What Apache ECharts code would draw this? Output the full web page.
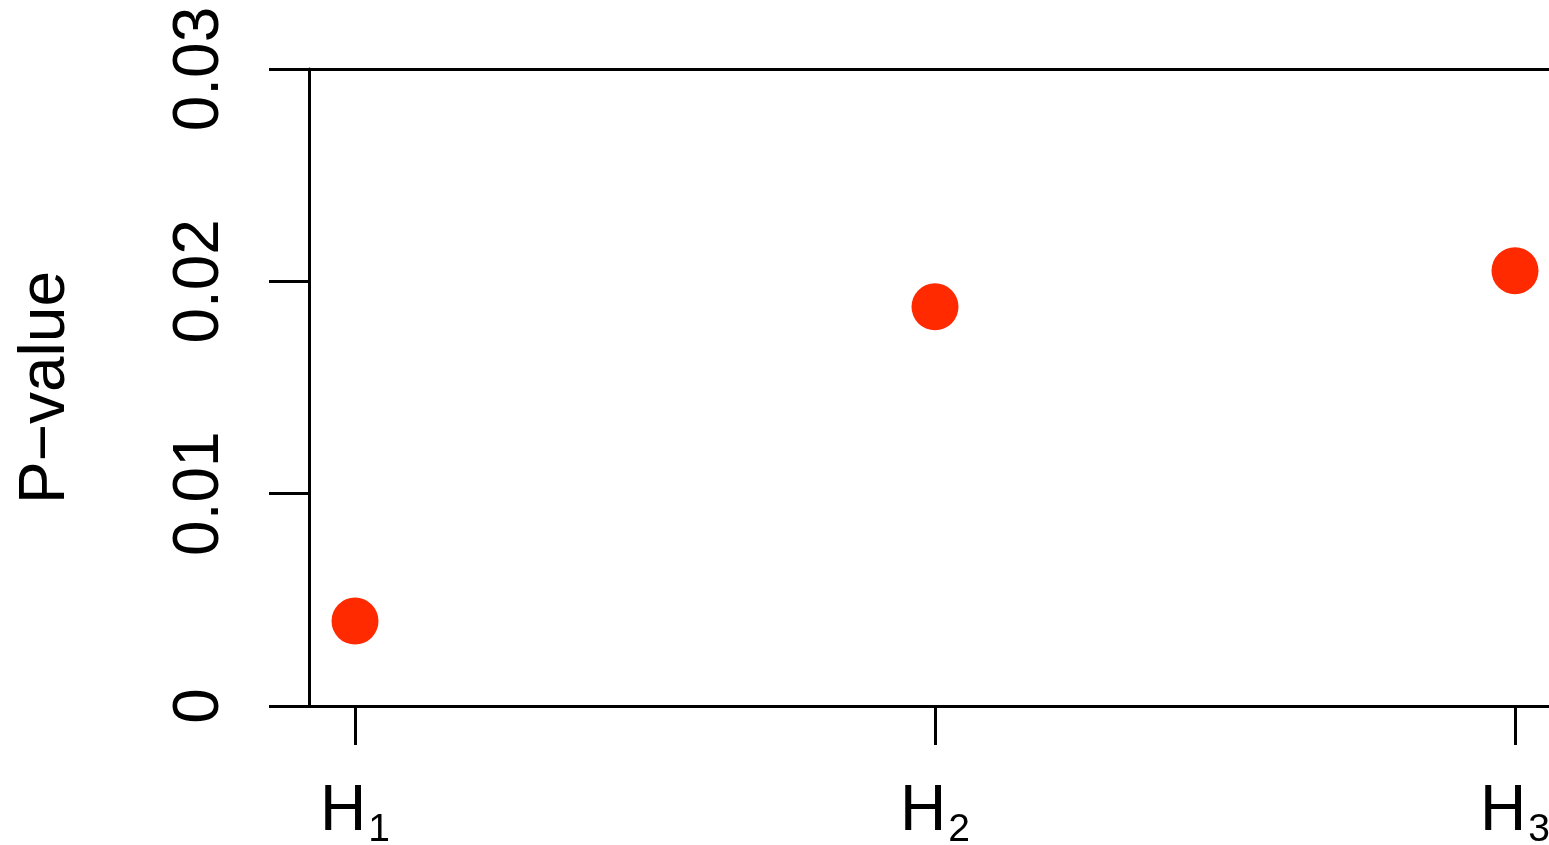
<!DOCTYPE html>
<html>
<head>
<meta charset="utf-8">
<script src="https://cdn.jsdelivr.net/npm/echarts@6/dist/echarts.min.js"></script>
<style>
html,body{margin:0;padding:0;background:#fff;overflow:hidden;}
#chart{width:1549px;height:845px;}
</style>
</head>
<body>
<div id="chart"></div>
<script>
// ---- data ----
const categories = ['1', '2', '3'];          // subscripts of H
const categoryPos = [1, 2, 3];
const pValues = [0.0040, 0.0188, 0.0205];
const yTicks = [0, 0.01, 0.02, 0.03];
const yTickLabels = ['0', '0.01', '0.02', '0.03'];
const yAxisName = 'P\u2212value';

const FONT = "'Liberation Sans', Arial, Helvetica, sans-serif";
const chart = echarts.init(document.getElementById('chart'), null, {renderer: 'canvas', width: 1549, height: 845});

const xMin = 1 - 46 / 580;
const xMax = 3 + 34 / 580;

const option = {
  backgroundColor: '#ffffff',
  animation: false,
  grid: {left: 309, top: 69, width: 1240, bottom: 139, containLabel: false, outerBoundsMode: 'none'},
  xAxis: [
    {
      type: 'value', position: 'bottom', min: xMin, max: xMax,
      axisLine: {show: true, onZero: false, lineStyle: {color: '#000', width: 3}},
      axisTick: {show: true, inside: false, length: 39, customValues: categoryPos, lineStyle: {color: '#000', width: 3}},
      axisLabel: {
        show: true, margin: 74, customValues: categoryPos, hideOverlap: false,
        formatter: function (v) {
          const i = categoryPos.indexOf(Math.round(v));
          return '{h|H}{s|' + categories[i] + '}';
        },
        rich: {
          h: {fontSize: 64, fontFamily: FONT, color: '#000', lineHeight: 64, verticalAlign: 'top'},
          s: {fontSize: 39, fontFamily: FONT, color: '#000', lineHeight: 39, verticalAlign: 'top', padding: [31, 0, 0, 2]}
        }
      },
      splitLine: {show: false}
    },
    {
      type: 'value', position: 'top', min: xMin, max: xMax,
      axisLine: {show: true, onZero: false, lineStyle: {color: '#000', width: 3}},
      axisTick: {show: false}, axisLabel: {show: false}, splitLine: {show: false}
    }
  ],
  yAxis: {
    type: 'value', min: 0, max: 0.03, interval: 0.01,
    name: yAxisName, nameLocation: 'middle', nameRotate: 90, nameGap: 231,
    nameTextStyle: {fontSize: 64, fontFamily: FONT, color: '#000'},
    axisLine: {show: true, lineStyle: {color: '#000', width: 3}},
    axisTick: {show: true, inside: false, length: 40, lineStyle: {color: '#000', width: 3}},
    axisLabel: {
      show: true, rotate: 90, margin: 77, fontSize: 64, fontFamily: FONT, color: '#000',
      formatter: function (v) {
        const i = yTicks.findIndex(t => Math.abs(t - v) < 1e-9);
        return i >= 0 ? yTickLabels[i] : '';
      }
    },
    splitLine: {show: false}
  },
  series: [{
    type: 'scatter',
    xAxisIndex: 0,
    data: categoryPos.map((x, i) => [x, pValues[i]]),
    symbol: 'circle', symbolSize: 47,
    itemStyle: {color: '#ff2a00', opacity: 1},
    clip: false
  }]
};
chart.setOption(option);
</script>
</body>
</html>
